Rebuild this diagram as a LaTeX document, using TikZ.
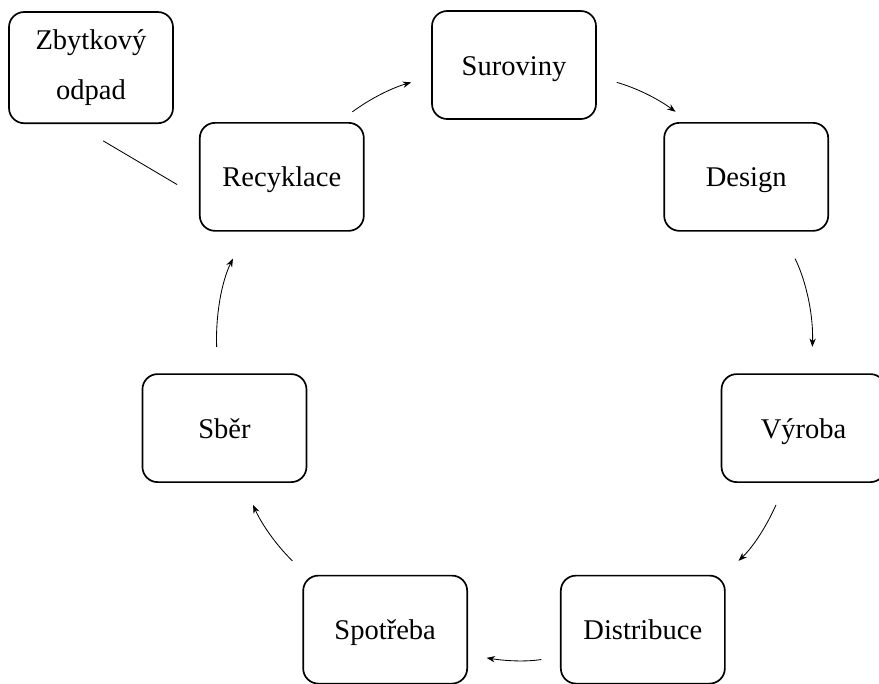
\documentclass[tikz,border=0pt]{standalone}
\usepackage{fontspec}
\setmainfont{Liberation Serif}
\usetikzlibrary{arrows.meta}

\begin{document}
\begin{tikzpicture}[
    boxbase/.style={draw, line width=1.2pt, rounded corners=0.38cm, minimum width=4.1cm, minimum height=2.7cm, align=center, font=\fontsize{20.3}{34.9}\selectfont},
    box/.style={boxbase, text height=0.5cm, text depth=0pt},
    flow/.style={-{Stealth[length=6pt,width=4.5pt]}, line width=0.6pt}
]
    % Fix the size of the picture
    \useasboundingbox (0,0) rectangle (21.975,-17.075);

    % Centre of the cycle
    \coordinate (c) at (12.85,-9.05);

    % Place the boxes round the cycle
    \node[box] (sur) at ([shift={(90:7.425)}]c) {Suroviny};
    \node[box] (des) at ([shift={(38.57:7.425)}]c) {Design};
    \node[box] (vyr) at ([shift={(-12.86:7.425)}]c) {Výroba};
    \node[box] (dis) at ([shift={(-64.29:7.425)}]c) {Distribuce};
    \node[box] (spo) at ([shift={(-115.71:7.425)}]c) {Spotřeba};
    \node[box] (sbe) at ([shift={(-167.14:7.425)}]c) {Sběr};
    \node[box] (rec) at ([shift={(141.43:7.425)}]c) {Recyklace};

    % The waste box in the corner
    \node[boxbase, minimum height=2.78cm] (zb) at (2.275,-1.69) {Zbytkový\\odpad};

    % Draw the arrows of the cycle
    \draw[flow, shorten <=0.43cm, shorten >=0.52cm] (rec.44) to[out=36.4, in=196] (sur.188.05);
    \draw[flow, shorten <=0.52cm, shorten >=0.43cm] (sur.-8.05) to[out=-16, in=143.6] (des.136);
    \draw[flow, shorten <=0.75cm, shorten >=0.66cm] (des.-57.65) to[out=-63.8, in=87.7] (vyr.82.4);
    \draw[flow, shorten <=0.6cm, shorten >=0.5cm] (vyr.-108.3) to[out=-113.9, in=44] (dis.34.9);
    \draw[flow, shorten <=0.47cm, shorten >=0.47cm] (dis.-162.7) to[out=-170.9, in=-9.1] (spo.-17.3);
    \draw[flow, shorten <=0.5cm, shorten >=0.6cm] (spo.145.1) to[out=136, in=-66.1] (sbe.-71.7);
    \draw[flow, shorten <=0.66cm, shorten >=0.75cm] (sbe.97.6) to[out=92.3, in=243.8] (rec.237.65);

    % Link to the waste box
    \draw[line width=0.6pt, shorten <=0.825cm, shorten >=0.635cm] (zb.-106) -- (rec.194.5);

\end{tikzpicture}
\end{document}
